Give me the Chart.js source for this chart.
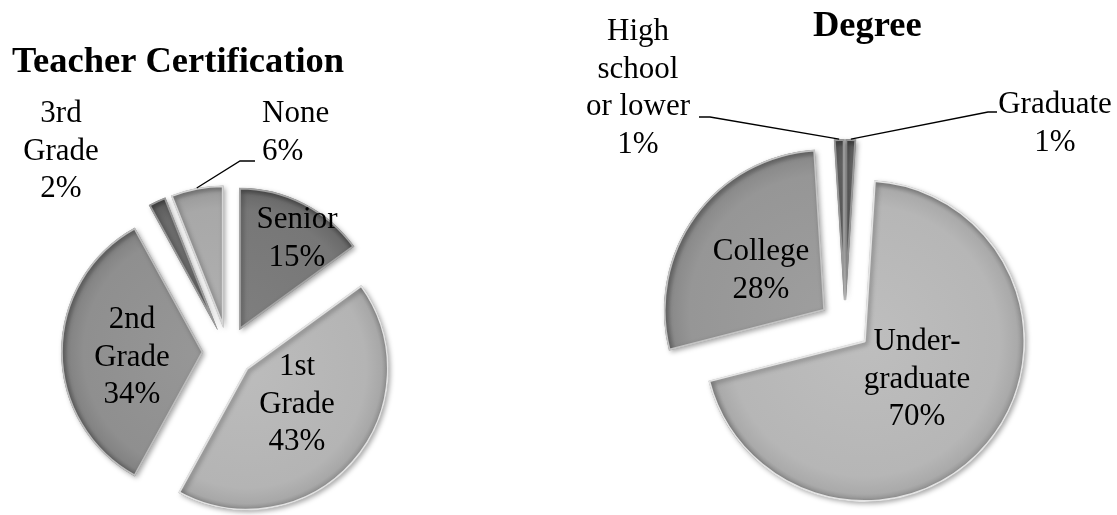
<!DOCTYPE html>
<html>
<head>
<meta charset="utf-8">
<title>Teacher Certification / Degree</title>
<script src="https://cdn.jsdelivr.net/npm/chart.js@4.4.1/dist/chart.umd.min.js"></script>
<style>
    html, body { margin: 0; padding: 0; background: #fff; overflow: hidden; }
    #wrap { position: relative; width: 1117px; height: 515px; overflow: hidden; }
    #certChart { position: absolute; left: 0; top: 0; }
    #degreeChart { position: absolute; left: 540px; top: 0; }
</style>
</head>
<body>
<div id="wrap">
    <canvas id="certChart" width="540" height="704"></canvas>
    <canvas id="degreeChart" width="577" height="650"></canvas>
</div>
<script>
// ========================================
// DATA
// ========================================
const certCategories = [['Senior'], ['1st', 'Grade'], ['2nd', 'Grade'], ['3rd', 'Grade'], ['None']];
const certValues = [15, 43, 34, 2, 6];
const certColors = ['#777777', '#b4b4b4', '#8f8f8f', '#6b6b6b', '#a8a8a8'];

const degreeCategories = [['Graduate'], ['Under-', 'graduate'], ['College'], ['High', 'school', 'or lower']];
const degreeValues = [1, 70, 28, 1];
const degreeColors = ['#6b6b6b', '#b6b6b6', '#969696', '#6b6b6b'];

// label placement in canvas px (centre x, first baseline y), optional leader elbow
const certLabelPos = [
    { x: 297, y: 228 },
    { x: 297, y: 375 },
    { x: 132, y: 328 },
    { x: 61, y: 122 },
    { x: 262, y: 122, align: 'left', leader: [[240, 161], [255, 161]] }
];
const degreeLabelPos = [
    { x: 515, y: 113, leader: [[448, 112], [457, 112]] },
    { x: 377, y: 350 },
    { x: 221, y: 260 },
    { x: 98, y: 40, leader: [[170, 117], [159, 117]] }
];

const FONT = '"Liberation Serif", "Times New Roman", serif';

// ========================================
// HELPERS
// ========================================
function shade(hex, amt) {
    const n = parseInt(hex.slice(1), 16);
    const c = v => Math.max(0, Math.min(255, v + amt));
    const r = c((n >> 16) & 255), g = c((n >> 8) & 255), b = c(n & 255);
    return 'rgb(' + r + ',' + g + ',' + b + ')';
}

// pull every slice out along its middle angle
const explodePlugin = {
    id: 'explode',
    afterDatasetUpdate(chart, args, opts) {
        const d = opts.distance || 0;
        args.meta.data.forEach(arc => {
            const mid = (arc.startAngle + arc.endAngle) / 2;
            arc.x += Math.cos(mid) * d;
            arc.y += Math.sin(mid) * d;
        });
    }
};

// bevel-ish radial shading + soft drop shadow
const shadePlugin = {
    id: 'bevel',
    beforeDatasetDraw(chart, args) {
        const ctx = chart.ctx;
        const base = chart.data.datasets[args.index].backgroundColor;
        args.meta.data.forEach((arc, i) => {
            const g = ctx.createRadialGradient(arc.x, arc.y, 0, arc.x, arc.y, arc.outerRadius);
            g.addColorStop(0, shade(base[i], 8));
            g.addColorStop(0.84, base[i]);
            g.addColorStop(0.95, shade(base[i], -12));
            g.addColorStop(1, shade(base[i], -40));
            arc.options = Object.assign({}, arc.options, {
                backgroundColor: g,
                borderColor: shade(base[i], 45),
                borderWidth: 1.5,
                borderAlign: 'inner'
            });
        });
        ctx.save();
        ctx.shadowColor = 'rgba(0,0,0,0.35)';
        ctx.shadowBlur = 5;
        ctx.shadowOffsetX = 2;
        ctx.shadowOffsetY = 2;
    },
    afterDatasetDraw(chart) {
        chart.ctx.restore();
    }
};

// title, data labels with percentages and leader lines
const labelPlugin = {
    id: 'sliceLabels',
    afterDatasetsDraw(chart, args, opts) {
        const ctx = chart.ctx;
        const meta = chart.getDatasetMeta(0);
        const values = chart.data.datasets[0].data;
        ctx.save();

        ctx.font = 'bold 36.5px ' + FONT;
        ctx.fillStyle = '#000';
        ctx.textAlign = 'left';
        ctx.textBaseline = 'alphabetic';
        ctx.fillText(opts.title.text, opts.title.x, opts.title.y);

        opts.positions.forEach((pos, i) => {
            const arc = meta.data[i];
            if (pos.leader) {
                const mid = (arc.startAngle + arc.endAngle) / 2;
                ctx.beginPath();
                ctx.moveTo(arc.x + Math.cos(mid) * arc.outerRadius, arc.y + Math.sin(mid) * arc.outerRadius);
                pos.leader.forEach(p => ctx.lineTo(p[0], p[1]));
                ctx.strokeStyle = '#000';
                ctx.lineWidth = 1.3;
                ctx.stroke();
            }
            const lines = chart.data.labels[i].concat([values[i] + '%']);
            ctx.font = '31px ' + FONT;
            ctx.fillStyle = '#000';
            ctx.textAlign = pos.align || 'center';
            lines.forEach((t, k) => ctx.fillText(t, pos.x, pos.y + k * 37.5));
        });
        ctx.restore();
    }
};

// ========================================
// BUILD CHARTS
// ========================================
function makePie(id, labels, values, colors, title, radius, labelPos, padding) {
    return new Chart(document.getElementById(id), {
        type: 'pie',
        data: {
            labels: labels,
            datasets: [{
                data: values,
                backgroundColor: colors,
                borderWidth: 0
            }]
        },
        options: {
            responsive: false,
            animation: false,
            events: [],
            radius: radius,
            layout: { padding: padding },
            plugins: {
                legend: { display: false },
                tooltip: { enabled: false },
                title: { display: false },
                explode: { distance: 25 },
                sliceLabels: { positions: labelPos, title: title }
            }
        },
        plugins: [explodePlugin, shadePlugin, labelPlugin]
    });
}

makePie('certChart', certCategories, certValues, certColors,
    { text: 'Teacher Certification', x: 12, y: 72 },
    142, certLabelPos, { left: 0, right: 84, top: 0, bottom: 0 });

makePie('degreeChart', degreeCategories, degreeValues, degreeColors,
    { text: 'Degree', x: 273, y: 36 },
    161, degreeLabelPos, { left: 33, right: 0, top: 0, bottom: 0 });
</script>
</body>
</html>
